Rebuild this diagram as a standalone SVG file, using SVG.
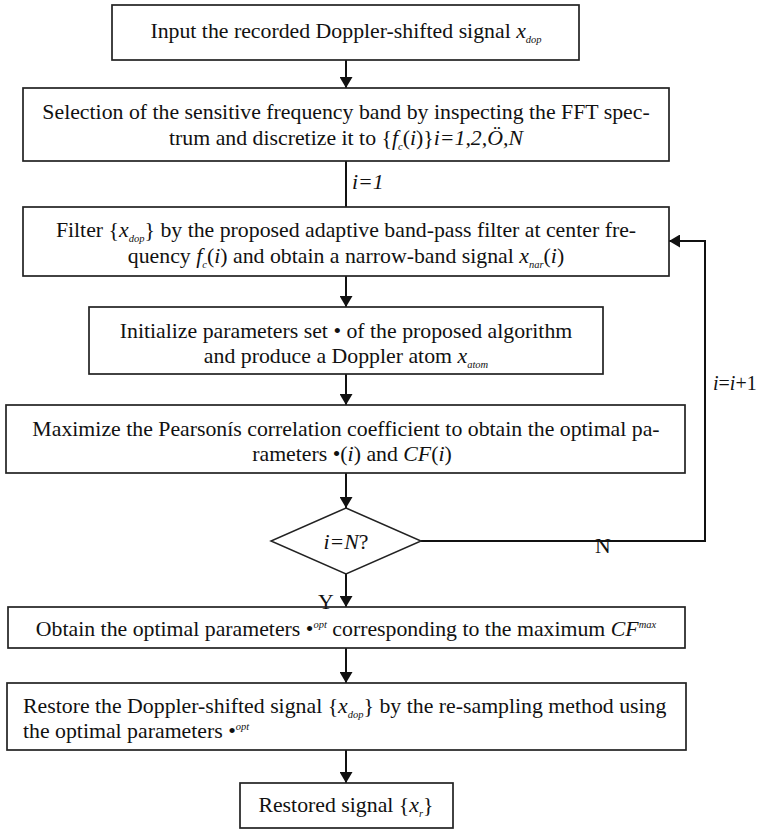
<svg xmlns="http://www.w3.org/2000/svg" width="760" height="831" viewBox="0 0 760 831">
  <style>
    .box { fill: none; stroke: #222222; stroke-width: 1.7; }
    .dia { fill: none; stroke: #222222; stroke-width: 1.5; }
    .line { fill: none; stroke: #111111; stroke-width: 2; }
    .t { font-family: "Liberation Serif", "Times New Roman", serif; font-size: 21.8px; fill: #111111; }
    .c { text-anchor: middle; }
    .i { font-style: italic; }
    .s { font-style: italic; font-size: 10.5px; }
  </style>
  <defs>
    <marker id="arrow" viewBox="0 0 11 13" refX="11" refY="6.5" markerWidth="11" markerHeight="13" markerUnits="userSpaceOnUse" orient="auto">
      <path d="M0,0 L11,6.5 L0,13 Z" fill="#111111"/>
    </marker>
  </defs>

  <rect width="760" height="831" fill="#ffffff"/>

  <!-- connectors -->
  <g id="connectors">
    <line class="line" x1="346" y1="60" x2="346" y2="88" marker-end="url(#arrow)"/>
    <line class="line" x1="346" y1="161" x2="346" y2="207"/>
    <text class="t i" x="352" y="189">i=1</text>
    <line class="line" x1="346" y1="276" x2="346" y2="307" marker-end="url(#arrow)"/>
    <line class="line" x1="346" y1="374" x2="346" y2="405" marker-end="url(#arrow)"/>
    <line class="line" x1="346" y1="473" x2="346" y2="508" marker-end="url(#arrow)"/>
    <line class="line" x1="346" y1="574" x2="346" y2="607" marker-end="url(#arrow)"/>
    <text class="t" x="318" y="609">Y</text>
    <!-- loop back from the decision to the filter step -->
    <polyline class="line" points="421,541 705,541 705,241 669,241" marker-end="url(#arrow)"/>
    <text class="t" x="595" y="553">N</text>
    <text class="t" x="713" y="390" style="font-size:20px"><tspan class="i">i</tspan>=<tspan class="i">i</tspan>+1</text>
    <line class="line" x1="346" y1="648" x2="346" y2="683" marker-end="url(#arrow)"/>
    <line class="line" x1="346" y1="750" x2="346" y2="783" marker-end="url(#arrow)"/>
  </g>

  <g id="input">
    <rect class="box" x="112" y="5" width="467" height="55"/>
    <text class="t c" x="346" y="38">Input the recorded Doppler-shifted signal <tspan class="i">x</tspan><tspan class="s" dy="5">dop</tspan></text>
  </g>

  <g id="band-selection">
    <rect class="box" x="23" y="88" width="646" height="73"/>
    <text class="t c" x="346" y="119">Selection of the sensitive frequency band by inspecting the FFT spec-</text>
    <text class="t c" x="346" y="145">trum and discretize it to {<tspan class="i">f</tspan><tspan class="s" dy="5">c</tspan><tspan dy="-5">(</tspan><tspan class="i">i</tspan>)}<tspan class="i">i=1,2,Ö,N</tspan></text>
  </g>

  <g id="filter">
    <rect class="box" x="23" y="207" width="646" height="69"/>
    <text class="t c" x="346" y="237">Filter {<tspan class="i">x</tspan><tspan class="s" dy="5">dop</tspan><tspan dy="-5">} by the proposed adaptive band-pass filter at center fre-</tspan></text>
    <text class="t c" x="346" y="263">quency <tspan class="i">f</tspan><tspan class="s" dy="5">c</tspan><tspan dy="-5">(</tspan><tspan class="i">i</tspan>) and obtain a narrow-band signal <tspan class="i">x</tspan><tspan class="s" dy="5">nar</tspan><tspan dy="-5">(</tspan><tspan class="i">i</tspan>)</text>
  </g>

  <g id="initialize">
    <rect class="box" x="89" y="307" width="514" height="67"/>
    <text class="t c" x="346" y="338">Initialize parameters set • of the proposed algorithm</text>
    <text class="t c" x="346" y="363">and produce a Doppler atom <tspan class="i">x</tspan><tspan class="s" dy="5">atom</tspan></text>
  </g>

  <g id="maximize">
    <rect class="box" x="6" y="405" width="679" height="68"/>
    <text class="t c" x="346" y="436">Maximize the Pearsonís correlation coefficient to obtain the optimal pa-</text>
    <text class="t c" x="352" y="461">rameters •(<tspan class="i">i</tspan>)  and <tspan class="i">CF</tspan>(<tspan class="i">i</tspan>)</text>
  </g>

  <g id="decision">
    <polygon class="dia" points="346,508 421,541 346,574 271,541"/>
    <text class="t c" x="346" y="549"><tspan class="i">i=N</tspan>?</text>
  </g>

  <g id="optimal">
    <rect class="box" x="8" y="607" width="677" height="41"/>
    <text class="t c" x="346" y="636">Obtain the optimal parameters •<tspan class="s" dy="-8">opt</tspan><tspan dy="8"> corresponding to the maximum </tspan><tspan class="i">CF</tspan><tspan class="s" dy="-8">max</tspan></text>
  </g>

  <g id="restore">
    <rect class="box" x="7" y="683" width="679" height="67"/>
    <text class="t" x="23" y="713">Restore the Doppler-shifted signal {<tspan class="i">x</tspan><tspan class="s" dy="5">dop</tspan><tspan dy="-5">} by the re-sampling method using</tspan></text>
    <text class="t" x="23" y="738">the optimal parameters •<tspan class="s" dy="-8">opt</tspan></text>
  </g>

  <g id="output">
    <rect class="box" x="240" y="783" width="213" height="45"/>
    <text class="t c" x="346" y="812">Restored signal {<tspan class="i">x</tspan><tspan class="s" dy="5">r</tspan><tspan dy="-5">}</tspan></text>
  </g>
</svg>
